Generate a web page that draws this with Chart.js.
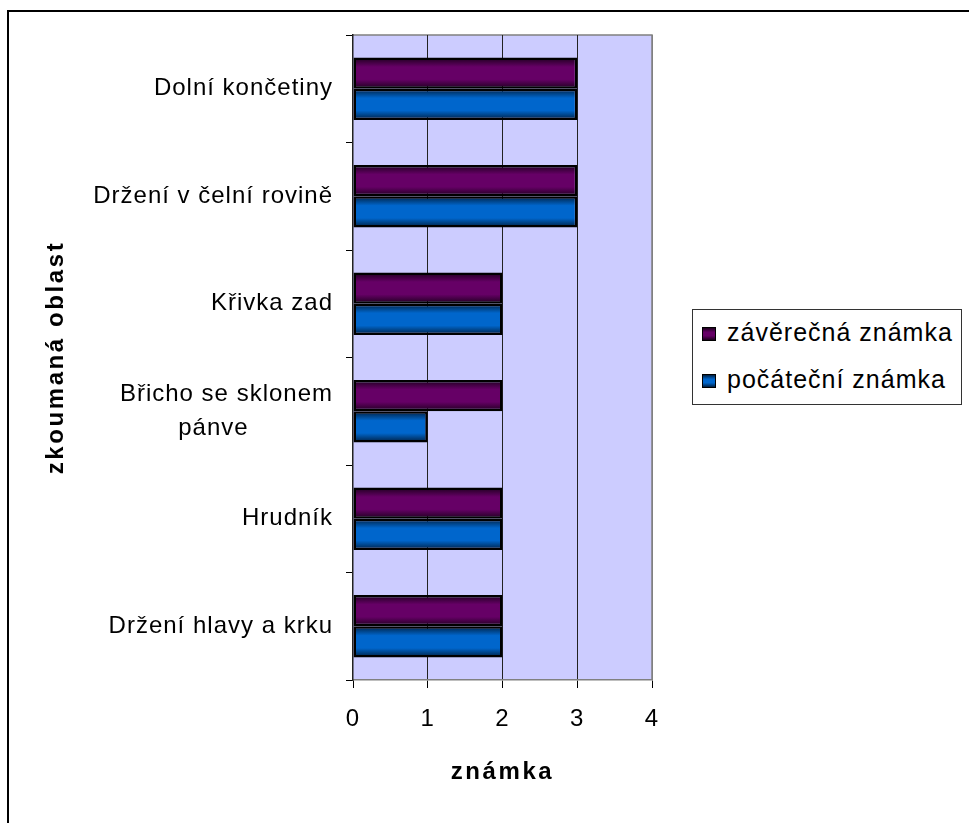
<!DOCTYPE html>
<html>
<head>
<meta charset="utf-8">
<script src="https://cdn.jsdelivr.net/npm/chart.js@4.4.0/dist/chart.umd.min.js"></script>
<style>
  html, body { margin: 0; padding: 0; background: #fff; overflow: hidden; }
  #wrap { position: relative; width: 969px; height: 823px; }
  #frame { position: absolute; left: 7px; top: 10px; width: 1000px; height: 900px; border: 2px solid #000; box-sizing: border-box; }
  #chart { position: absolute; left: 0; top: 0; }
  #legend { position: absolute; left: 692px; top: 309px; width: 270px; height: 96px; border: 1px solid #333; box-sizing: border-box; background: #fff;
            font-family: 'Liberation Sans', Arial, sans-serif; font-size: 25px; letter-spacing: 1px; color: #000; }
  .item { position: absolute; left: 34px; height: 28px; line-height: 28px; white-space: nowrap; }
  .swatch { position: absolute; left: 9px; width: 14px; height: 14px; border: 1px solid #000; box-sizing: border-box; }
</style>
</head>
<body>
<div id="wrap">
  <div id="frame"></div>
  <canvas id="chart" width="969" height="823"></canvas>
  <div id="legend"></div>
</div>
<script>
const categories = [
    'Dolní končetiny',
    'Držení v čelní rovině',
    'Křivka zad',
    ['Břicho se sklonem', 'pánve           '],
    'Hrudník',
    'Držení hlavy a krku'
];
const finalGrades = [3, 3, 2, 2, 2, 2];
const initialGrades = [3, 3, 2, 1, 2, 2];
const gradeTicks = [0, 1, 2, 3, 4];

const seriesNames = ['závěrečná známka', 'počáteční známka'];
const seriesColors = [
    { mid: '#660066', edge: '#1c001c' },
    { mid: '#0066cc', edge: '#001f40' }
];

const FONT = "'Liberation Sans', Arial, sans-serif";
const CAT_PCT = 0.58;

// Cylinder-like shading: dark edges, bright middle, computed from the y scale
function barFill(c) {
    const col = seriesColors[c.datasetIndex];
    if (c.dataIndex === undefined) return col.mid;
    const y = c.chart.scales.y;
    if (!y) return col.mid;
    const center = y.getPixelForValue(c.dataIndex);
    const band = Math.abs(y.getPixelForValue(1) - y.getPixelForValue(0));
    if (!isFinite(center) || !isFinite(band) || band === 0) return col.mid;
    const half = band * CAT_PCT / 2;
    const top = c.datasetIndex === 0 ? center - half : center;
    const g = c.chart.ctx.createLinearGradient(0, top, 0, top + half);
    g.addColorStop(0, col.edge);
    g.addColorStop(0.3, col.mid);
    g.addColorStop(0.7, col.mid);
    g.addColorStop(1, col.edge);
    return g;
}

const plotBackground = {
    id: 'plotBackground',
    beforeDraw(chart) {
        const { ctx, chartArea: a } = chart;
        ctx.save();
        ctx.fillStyle = '#ccccff';
        ctx.fillRect(a.left, a.top, a.right - a.left, a.bottom - a.top);
        ctx.strokeStyle = '#808080';
        ctx.lineWidth = 1.5;
        ctx.beginPath();
        ctx.moveTo(a.left, a.top);
        ctx.lineTo(a.right, a.top);
        ctx.lineTo(a.right, a.bottom);
        ctx.stroke();
        ctx.restore();
    }
};

// Wider glyph spacing for all canvas text, a bit more for the axis titles
const textSpacing = {
    id: 'textSpacing',
    beforeLayout(chart) { chart.ctx.letterSpacing = '1px'; },
    beforeDraw(chart) { chart.ctx.letterSpacing = '1px'; },
    afterUpdate(chart) {
        Object.values(chart.scales).forEach(s => {
            if (s._spaced) return;
            const orig = s.drawTitle;
            s.drawTitle = function() {
                const prev = this.ctx.letterSpacing;
                this.ctx.letterSpacing = '2.6px';
                orig.call(this);
                this.ctx.letterSpacing = prev;
            };
            s._spaced = true;
        });
    }
};

function makeSeries(name, values) {
    return {
        label: name,
        data: values,
        categoryPercentage: CAT_PCT,
        barPercentage: 1,
        backgroundColor: barFill,
        borderColor: '#000',
        borderWidth: 2.5,
        borderSkipped: false
    };
}

const chart = new Chart(document.getElementById('chart'), {
    type: 'bar',
    data: {
        labels: categories,
        datasets: [
            makeSeries(seriesNames[0], finalGrades),
            makeSeries(seriesNames[1], initialGrades)
        ]
    },
    options: {
        indexAxis: 'y',
        responsive: false,
        animation: false,
        layout: { padding: { left: 0, top: 35, right: 317, bottom: 0 } },
        plugins: {
            legend: { display: false },
            tooltip: { enabled: false },
            colors: { enabled: false }
        },
        scales: {
            x: {
                min: 0,
                max: 4,
                afterBuildTicks(s) { s.ticks = gradeTicks.map(v => ({ value: v })); },
                afterFit(s) { s.height = 823 - 35 - 645; },
                border: { display: true, color: '#808080', width: 1.5 },
                grid: {
                    color: c => c.tick && c.tick.value === 0 ? 'rgba(0,0,0,0)' : (c.tick && c.tick.value === 4 ? '#808080' : '#222'),
                    tickColor: '#000',
                    tickLength: 8,
                    lineWidth: 1
                },
                ticks: {
                    color: '#000',
                    padding: 17,
                    font: { family: FONT, size: 24 }
                },
                title: {
                    display: true,
                    text: 'známka',
                    color: '#000',
                    font: { family: FONT, size: 24, weight: 'bold' },
                    padding: { top: 0, bottom: 36 }
                }
            },
            y: {
                afterFit(s) { s.width = 353; },
                border: { display: true, color: '#222', width: 1.5 },
                grid: {
                    offset: true,
                    drawOnChartArea: false,
                    tickColor: '#000',
                    tickLength: 7
                },
                ticks: {
                    color: '#000',
                    padding: 13,
                    font: { family: FONT, size: 24, lineHeight: 1.4 }
                },
                title: {
                    display: true,
                    text: 'zkoumaná oblast',
                    color: '#000',
                    font: { family: FONT, size: 24, weight: 'bold' },
                    padding: { top: 42, bottom: 0 }
                }
            }
        }
    },
    plugins: [plotBackground, textSpacing]
});
// second pass so the bar gradients see the final scale layout
chart.update();

// Legend box on the right
const legend = document.getElementById('legend');
seriesNames.forEach((name, i) => {
    const sw = document.createElement('div');
    sw.className = 'swatch';
    sw.style.top = (17 + i * 47) + 'px';
    sw.style.background = 'linear-gradient(' + seriesColors[i].edge + ', ' + seriesColors[i].mid + ' 35%, ' +
        seriesColors[i].mid + ' 65%, ' + seriesColors[i].edge + ')';
    legend.appendChild(sw);
    const item = document.createElement('div');
    item.className = 'item';
    item.style.top = (8 + i * 47) + 'px';
    item.textContent = name;
    legend.appendChild(item);
});
</script>
</body>
</html>
